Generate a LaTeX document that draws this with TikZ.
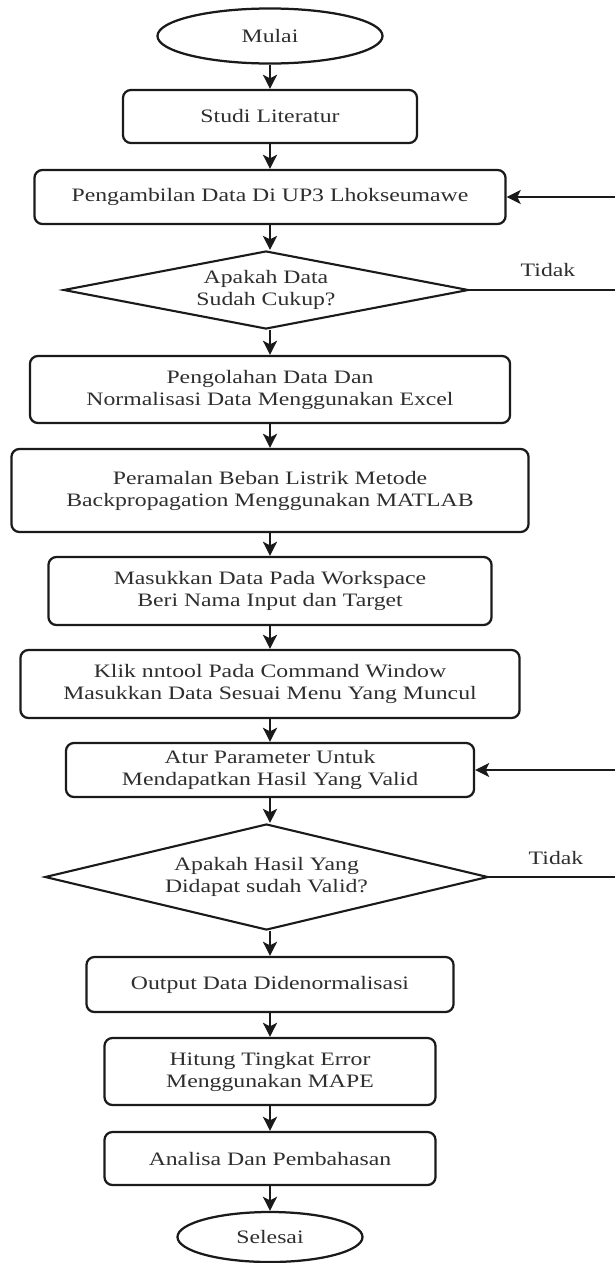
\documentclass[tikz,border=0pt]{standalone}
\usepackage{fontspec}
\setmainfont[FakeStretch=1.25]{Liberation Serif}
\usepackage{tikz}
\usetikzlibrary{arrows.meta,shapes.geometric,calc}
\tikzset{>={Stealth[length=10pt,width=10pt,inset=2.5pt]}}
\definecolor{garis}{HTML}{1A1A1A}
\definecolor{teks}{HTML}{2E2E2E}
\tikzset{
  huruf/.style={font=\fontsize{13.5}{15.6}\selectfont,text=teks},
  proses/.style={huruf,draw=garis,line width=1.6pt,rounded corners=0.2cm,align=center,inner sep=0pt},
  keputusan/.style={huruf,draw=garis,line width=1.5pt,diamond,aspect=5,align=center,inner sep=0pt},
  terminal/.style={huruf,draw=garis,line width=1.6pt,ellipse,inner sep=0pt},
  alur/.style={->,draw=garis,line width=1.6pt},
}

\begin{document}
\begin{tikzpicture}[x=0.025cm,y=-0.025cm]
\useasboundingbox (0,0) rectangle (615,1263);
% langkah-langkah
\node[terminal,minimum width=5.625cm,minimum height=1.375cm] (mulai) at (270,36) {Mulai};
\node[proses,minimum width=7.35cm,minimum height=1.325cm] (studi) at (270,116.5) {Studi Literatur};
\node[proses,minimum width=11.775cm,minimum height=1.35cm] (ambil) at (270,197) {Pengambilan Data Di UP3 Lhokseumawe};
\node[keputusan,minimum width=10.125cm,minimum height=1.95cm] (cukup) at (266,290) {Apakah Data\\Sudah Cukup?};
\node[proses,minimum width=12cm,minimum height=1.675cm] (olah) at (270,389.5) {Pengolahan Data Dan\\Normalisasi Data Menggunakan Excel};
\node[proses,minimum width=12.925cm,minimum height=2.075cm] (ramal) at (270,490.5) {Peramalan Beban Listrik Metode\\Backpropagation Menggunakan MATLAB};
\node[proses,minimum width=11.075cm,minimum height=1.7cm] (masuk) at (270,591) {Masukkan Data Pada Workspace\\Beri Nama Input dan Target};
\node[proses,minimum width=12.475cm,minimum height=1.7cm] (klik) at (270,684) {Klik nntool Pada Command Window\\Masukkan Data Sesuai Menu Yang Muncul};
\node[proses,minimum width=10.2cm,minimum height=1.35cm] (atur) at (270,770) {Atur Parameter Untuk\\Mendapatkan Hasil Yang Valid};
\node[keputusan,aspect=4,minimum width=11.075cm,minimum height=2.65cm] (valid) at (266.5,877) {Apakah Hasil Yang\\Didapat sudah Valid?};
\node[proses,minimum width=9.175cm,minimum height=1.375cm] (output) at (270,984.5) {Output Data Didenormalisasi};
\node[proses,minimum width=8.275cm,minimum height=1.675cm] (hitung) at (270,1071.5) {Hitung Tingkat Error\\Menggunakan MAPE};
\node[proses,minimum width=8.275cm,minimum height=1.325cm] (analisa) at (270,1158.5) {Analisa Dan Pembahasan};
\node[terminal,minimum width=4.625cm,minimum height=1.25cm] (selesai) at (270,1237) {Selesai};
\node[huruf] (tidaka) at (548,270) {Tidak};
\node[huruf] (tidakb) at (556,858) {Tidak};
\coordinate (kanan) at (650,0);
% panah
\draw[alur] (mulai.south) -- (studi.north);
\draw[alur] (studi.south) -- (ambil.north);
\draw[alur] (ambil.south) -- (ambil.south |- cukup.north);
\draw[alur] (olah.north |- cukup.south) -- (olah.north);
\draw[alur] (olah.south) -- (ramal.north);
\draw[alur] (ramal.south) -- (masuk.north);
\draw[alur] (masuk.south) -- (klik.north);
\draw[alur] (klik.south) -- (atur.north);
\draw[alur] (atur.south) -- (atur.south |- valid.north);
\draw[alur] (output.north |- valid.south) -- (output.north);
\draw[alur] (output.south) -- (hitung.north);
\draw[alur] (hitung.south) -- (analisa.north);
\draw[alur] (analisa.south) -- (selesai.north);
\draw[alur] (cukup.east) -- (cukup.east -| kanan) |- (ambil.east);
\draw[alur] (valid.east) -- (valid.east -| kanan) |- (atur.east);
\end{tikzpicture}
\end{document}
